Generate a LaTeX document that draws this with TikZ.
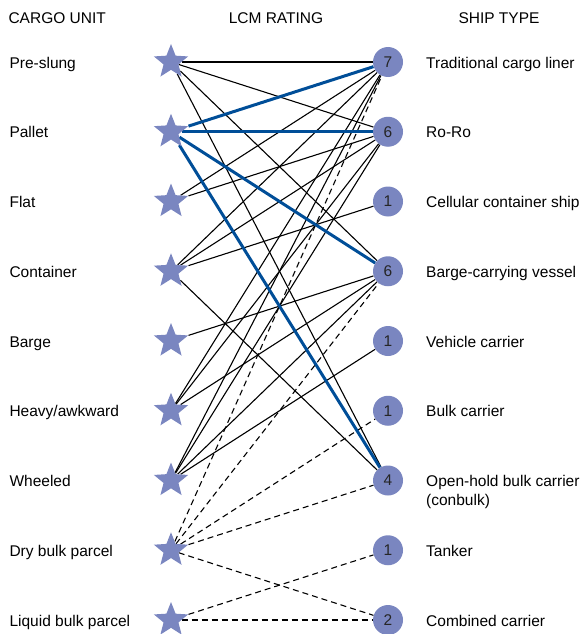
\documentclass[tikz,border=0pt]{standalone}
\usepackage{fontspec}
\setmainfont{Liberation Sans}
\usetikzlibrary{shapes.geometric, backgrounds}

\definecolor{unitblue}{RGB}{122,134,192}
\definecolor{linkblue}{RGB}{0,78,152}

\begin{document}
\begin{tikzpicture}[
    x=1pt, y=-1pt,
    every node/.style={font=\fontsize{15.5}{18.6}\selectfont},
    unit/.style={star, star points=5, star point ratio=2.3, minimum size=36pt, inner sep=0pt, fill=unitblue},
    rating/.style={circle, minimum size=30pt, inner sep=0pt, fill=unitblue, text=black!85},
    link/.style={line width=1.1pt},
    keylink/.style={line width=3pt, linkblue},
    bulklink/.style={line width=1.1pt, dash pattern=on 6pt off 4pt}
]
\useasboundingbox (0,0) rectangle (583,634);

% Column headings
\node[anchor=base west] (hunit) at (5,24) {CARGO UNIT};
\node[anchor=base] (hlcm) at (276,24) {LCM RATING};
\node[anchor=base] (hship) at (499,24) {SHIP TYPE};

% Cargo units (stars)
\foreach \lab [count=\i] in {Pre-slung, Pallet, Flat, Container, Barge,
    Heavy/awkward, Wheeled, Dry bulk parcel, Liquid bulk parcel} {
    \pgfmathsetmacro\y{62+69.75*(\i-1)}
    \node[unit] (u\i) at (171,\y) {};
    \node[anchor=base west] (ul\i) at (6,\y+6) {\lab};
}

% Ship types (circles with rating)
\foreach \r/\lab [count=\i] in {7/Traditional cargo liner, 6/Ro-Ro,
    1/Cellular container ship, 6/Barge-carrying vessel, 1/Vehicle carrier,
    1/Bulk carrier,
    4/{\begin{tabular}[t]{@{}l@{}}Open-hold bulk carrier\\(conbulk)\end{tabular}},
    1/Tanker, 2/Combined carrier} {
    \pgfmathsetmacro\y{62+69.75*(\i-1)}
    \node[rating] (s\i) at (388,\y) {\r};
    \node[anchor=base west, inner sep=0pt] (sl\i) at (426,\y+6) {\lab};
}

% Links
\begin{scope}[on background layer]
\foreach \a/\b in {1/1, 1/2, 1/4, 1/7, 3/1, 3/2, 4/1, 4/2, 4/3, 4/7, 5/4,
    6/1, 6/2, 6/4, 7/1, 7/2, 7/4, 7/5}
    \draw[link] (u\a) -- (s\b);
\foreach \a/\b in {8/1, 8/4, 8/6, 8/7, 8/9, 9/8, 9/9}
    \draw[bulklink] (u\a) -- (s\b);
\foreach \b in {1, 2, 4, 7}
    \draw[keylink] (u2) -- (s\b);
\end{scope}
\end{tikzpicture}
\end{document}
